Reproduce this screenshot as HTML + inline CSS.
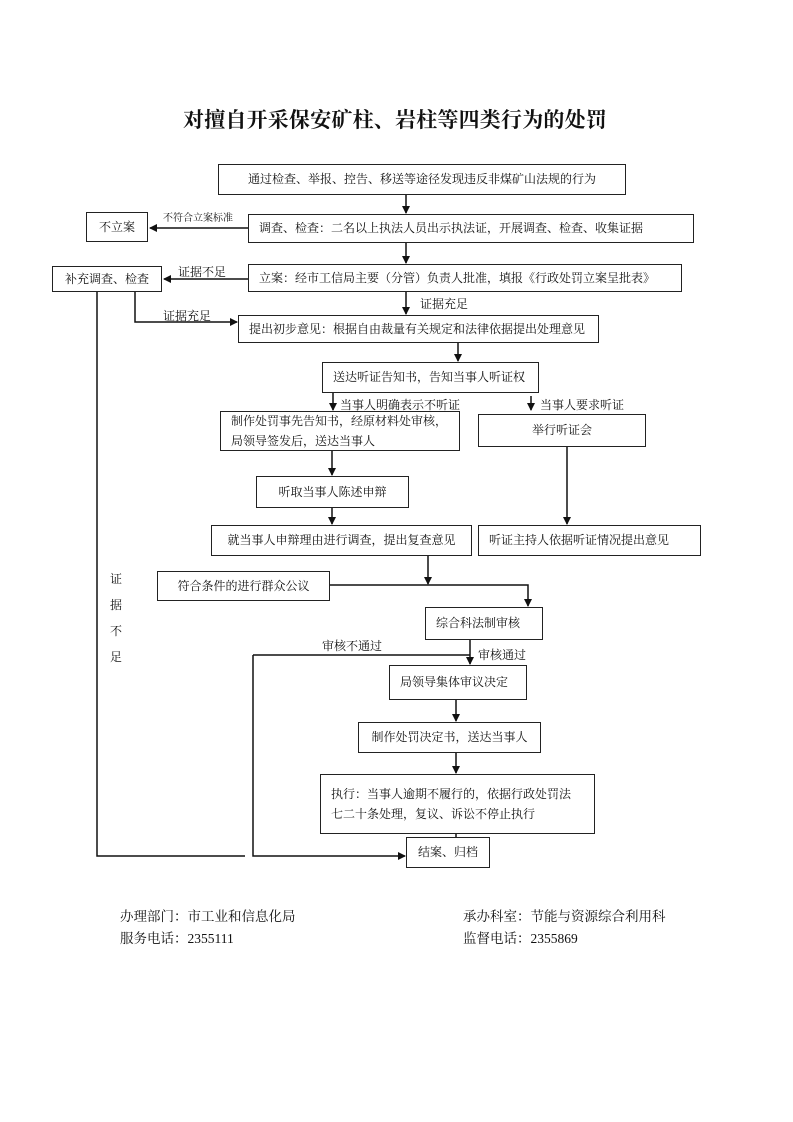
<!DOCTYPE html>
<html><head><meta charset="utf-8"><style>
body{margin:0;width:793px;height:1122px;background:#fff;position:relative;font-family:"Liberation Serif","Noto Serif CJK SC","Noto Sans CJK SC",serif;color:#111;overflow:hidden}
.b{position:absolute;border:1.5px solid #222;box-sizing:border-box;font-size:12px;display:flex;align-items:center;padding-left:10px;line-height:19px;background:#fff}
.c{justify-content:center;padding-left:0}
.t{position:absolute;font-size:12px;white-space:nowrap}
svg{position:absolute;left:0;top:0}
</style></head><body>
<div class="t" style="left:183px;top:104px;font-size:21px;font-weight:bold;letter-spacing:0.2px">对擅自开采保安矿柱、岩柱等四类行为的处罚</div>
<svg width="793" height="1122" stroke="#111" stroke-width="1.5" fill="none">
<defs><marker id="a" markerWidth="8" markerHeight="8" refX="7" refY="4" orient="auto" markerUnits="userSpaceOnUse"><path d="M0,0L8,4L0,8z" fill="#111" stroke="none"/></marker></defs>
<line x1="406" y1="195" x2="406" y2="213" marker-end="url(#a)"/>
<line x1="406" y1="243" x2="406" y2="263" marker-end="url(#a)"/>
<line x1="406" y1="292" x2="406" y2="314" marker-end="url(#a)"/>
<line x1="248" y1="228" x2="150" y2="228" marker-end="url(#a)"/>
<line x1="248" y1="279" x2="164" y2="279" marker-end="url(#a)"/>
<polyline points="135,292 135,322 237,322" marker-end="url(#a)"/>
<polyline points="97,292 97,856 245,856"/>
<polyline points="253,655 253,856 405,856" marker-end="url(#a)"/>
<line x1="253" y1="655" x2="470" y2="655"/>
<line x1="458" y1="343" x2="458" y2="361" marker-end="url(#a)"/>
<line x1="333" y1="393" x2="333" y2="410" marker-end="url(#a)"/>
<line x1="531" y1="396" x2="531" y2="410" marker-end="url(#a)"/>
<line x1="567" y1="447" x2="567" y2="524" marker-end="url(#a)"/>
<line x1="332" y1="451" x2="332" y2="475" marker-end="url(#a)"/>
<line x1="332" y1="508" x2="332" y2="524" marker-end="url(#a)"/>
<line x1="428" y1="556" x2="428" y2="584" marker-end="url(#a)"/>
<polyline points="330,585 528,585 528,606" marker-end="url(#a)"/>
<line x1="470" y1="640" x2="470" y2="664" marker-end="url(#a)"/>
<line x1="456" y1="700" x2="456" y2="721" marker-end="url(#a)"/>
<line x1="456" y1="753" x2="456" y2="773" marker-end="url(#a)"/>
<line x1="456" y1="834" x2="456" y2="837"/>
</svg>
<div class="b c" style="left:218px;top:164px;width:408px;height:31px">通过检查、举报、控告、移送等途径发现违反非煤矿山法规的行为</div>
<div class="b" style="left:248px;top:214px;width:446px;height:29px">调查、检查：二名以上执法人员出示执法证，开展调查、检查、收集证据</div>
<div class="b c" style="left:86px;top:212px;width:62px;height:30px">不立案</div>
<div class="t" style="left:163px;top:209px;font-size:10px">不符合立案标准</div>
<div class="b" style="left:248px;top:264px;width:434px;height:28px">立案：经市工信局主要（分管）负责人批准，填报《行政处罚立案呈批表》</div>
<div class="b c" style="left:52px;top:266px;width:110px;height:26px">补充调查、检查</div>
<div class="t" style="left:178px;top:263px">证据不足</div>
<div class="t" style="left:420px;top:295px">证据充足</div>
<div class="t" style="left:163px;top:307px">证据充足</div>
<div class="b" style="left:238px;top:315px;width:361px;height:28px">提出初步意见：根据自由裁量有关规定和法律依据提出处理意见</div>
<div class="b" style="left:322px;top:362px;width:217px;height:31px">送达听证告知书，告知当事人听证权</div>
<div class="t" style="left:340px;top:396px">当事人明确表示不听证</div>
<div class="t" style="left:540px;top:396px">当事人要求听证</div>
<div class="b" style="left:220px;top:411px;width:240px;height:40px;line-height:20px">制作处罚事先告知书，经原材料处审核，<br>局领导签发后，送达当事人</div>
<div class="b c" style="left:478px;top:414px;width:168px;height:33px">举行听证会</div>
<div class="b c" style="left:256px;top:476px;width:153px;height:32px">听取当事人陈述申辩</div>
<div class="b c" style="left:211px;top:525px;width:261px;height:31px">就当事人申辩理由进行调查，提出复查意见</div>
<div class="b" style="left:478px;top:525px;width:223px;height:31px">听证主持人依据听证情况提出意见</div>
<div class="t" style="left:110px;top:566px;line-height:26px;white-space:normal;width:14px">证<br>据<br>不<br>足</div>
<div class="b c" style="left:157px;top:571px;width:173px;height:30px">符合条件的进行群众公议</div>
<div class="b" style="left:425px;top:607px;width:118px;height:33px">综合科法制审核</div>
<div class="t" style="left:322px;top:637px">审核不通过</div>
<div class="t" style="left:478px;top:646px">审核通过</div>
<div class="b" style="left:389px;top:665px;width:138px;height:35px">局领导集体审议决定</div>
<div class="b c" style="left:358px;top:722px;width:183px;height:31px">制作处罚决定书，送达当事人</div>
<div class="b" style="left:320px;top:774px;width:275px;height:60px;line-height:20px">执行：当事人逾期不履行的，依据行政处罚法<br>七二十条处理，复议、诉讼不停止执行</div>
<div class="b c" style="left:406px;top:837px;width:84px;height:31px">结案、归档</div>
<div class="t" style="left:120px;top:906px;font-size:13.5px;line-height:22px">办理部门：市工业和信息化局<br>服务电话：2355111</div>
<div class="t" style="left:463px;top:906px;font-size:13.5px;line-height:22px">承办科室：节能与资源综合利用科<br>监督电话：2355869</div>
</body></html>
